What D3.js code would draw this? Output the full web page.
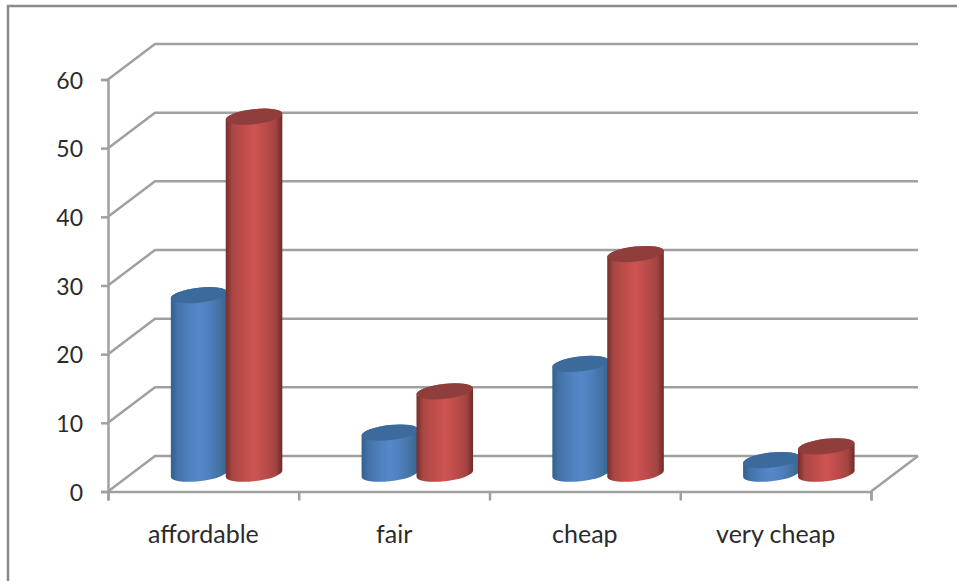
<!DOCTYPE html>
<html>
<head>
<meta charset="utf-8">
<script src="https://cdn.jsdelivr.net/npm/d3@7"></script>
<style>
  html, body { margin: 0; padding: 0; background: #fff; }
  svg { display: block; }
  text { font-family: Lato, "Open Sans", sans-serif; fill: #2b2b2b; }
</style>
</head>
<body>
<svg id="chart" width="957" height="581"></svg>
<script>
// Survey answers by price perception, two series per category.
const categories = ["affordable", "fair", "cheap", "very cheap"];
const seriesA = [26, 6, 16, 2];
const seriesB = [52, 12, 32, 4];
const valueTicks = [0, 10, 20, 30, 40, 50, 60];

const svg = d3.select("#chart");

// Front plane of the 3D box, plus the offset of its back wall.
const front = { left: 108, right: 871, bottom: 491.5, top: 79.5 };
const depth = { dx: 47, dy: -35.5 };
const gridColor = "#a0a0a0";
const lineWidth = 2.5;

const x = d3.scaleBand().domain(categories).range([front.left, front.right])
  .paddingInner(0.418).paddingOuter(0.209);
const xInner = d3.scaleBand().domain([0, 1]).range([0, x.bandwidth()]);
const xEdges = d3.scalePoint().domain(d3.range(categories.length + 1)).range([front.left, front.right]);
const y = d3.scaleLinear().domain([0, 60]).range([front.bottom, front.top]);

// Outer frame: only the left and top edges fall inside the canvas.
svg.append("path")
  .attr("d", "M8,581V6H957")
  .attr("fill", "none").attr("stroke", "#8a8a8a").attr("stroke-width", lineWidth);

// Gridlines on the back wall and the matching side-wall slants.
const grid = svg.append("g").attr("fill", "none").attr("stroke", gridColor).attr("stroke-width", lineWidth);
valueTicks.forEach(v => {
  const yf = y(v);
  grid.append("path").attr("d",
    `M${front.left},${yf}L${front.left + depth.dx},${yf + depth.dy}H${front.right + depth.dx}`);
});
// Floor edge at the right side.
grid.append("path").attr("d",
  `M${front.right},${front.bottom}L${front.right + depth.dx},${front.bottom + depth.dy}`);

// Axes
const yAxis = d3.axisLeft(y).tickValues(valueTicks).tickSize(7).tickPadding(18).tickFormat(d3.format("d"));
const gy = svg.append("g").attr("transform", `translate(${front.left},0)`).call(yAxis);
const xAxisEdges = d3.axisBottom(xEdges).tickSize(9).tickFormat("");
const gx = svg.append("g").attr("transform", `translate(0,${front.bottom})`).call(xAxisEdges);
[gy, gx].forEach(g => {
  g.selectAll("path.domain").attr("stroke", gridColor).attr("stroke-width", lineWidth);
  g.selectAll("line").attr("stroke", gridColor).attr("stroke-width", lineWidth);
});
gy.selectAll("text").attr("font-size", 23).attr("dy", "0.38em").style("fill", "#2b2b2b")
  .style("font-family", "Lato, sans-serif");

// Category labels
svg.append("g").selectAll("text").data(categories).join("text")
  .attr("x", d => x(d) + x.bandwidth() / 2)
  .attr("y", 543)
  .attr("text-anchor", "middle")
  .attr("font-size", 25)
  .text(d => d);

// Cylinder shading
const defs = svg.append("defs");
const palettes = [
  { id: "shadeA", top: "#3d6a9c", stops: ["#33608f", "#4372a8", "#4f80bd", "#5588c9", "#4f80bd", "#42709f", "#366391"] },
  { id: "shadeB", top: "#903e3c", stops: ["#742e2c", "#aa4744", "#c04d4b", "#cd5452", "#be4c4a", "#a44442", "#6e2b29"] }
];
const stopAt = [0, 0.12, 0.32, 0.5, 0.68, 0.88, 1];
palettes.forEach(p => {
  const g = defs.append("linearGradient").attr("id", p.id)
    .attr("x1", 0).attr("x2", 1).attr("y1", 0).attr("y2", 0);
  p.stops.forEach((c, i) => g.append("stop").attr("offset", stopAt[i]).attr("stop-color", c));
});

// Cylinders stand mid-depth on the floor, tilted by the view rotation.
const tilt = -6.5;
const ry = 7.5;
const rad = tilt * Math.PI / 180;
const rows = categories.map((c, i) => [
  { c, s: 0, v: seriesA[i] },
  { c, s: 1, v: seriesB[i] }
]).flat();

const bars = svg.append("g").selectAll("g").data(rows).join("g");
bars.each(function (d) {
  const g = d3.select(this);
  const w = xInner.bandwidth();
  const rx = w / 2 + 0.7;
  const cx = x(d.c) + xInner(d.s) + w / 2 + depth.dx / 2 - (d.s ? 0.6 : 0);
  const yBase = y(0) + depth.dy / 2;
  const yTop = y(d.v) + depth.dy / 2;
  // Silhouette points: where the tilted ellipse reaches its horizontal extremes.
  const ex = Math.hypot(rx * Math.cos(rad), ry * Math.sin(rad));
  const ey = (rx * rx - ry * ry) * Math.sin(rad) * Math.cos(rad) / ex;
  g.append("path")
    .attr("d", `M${cx - ex},${yTop - ey}L${cx - ex},${yBase - ey}` +
      `A${rx},${ry} ${tilt} 0 0 ${cx + ex},${yBase + ey}L${cx + ex},${yTop + ey}` +
      `A${rx},${ry} ${tilt} 0 0 ${cx - ex},${yTop - ey}Z`)
    .attr("fill", `url(#${palettes[d.s].id})`);
  g.append("ellipse")
    .attr("rx", rx).attr("ry", ry)
    .attr("transform", `translate(${cx},${yTop}) rotate(${tilt})`)
    .attr("fill", palettes[d.s].top);
});
</script>
</body>
</html>
